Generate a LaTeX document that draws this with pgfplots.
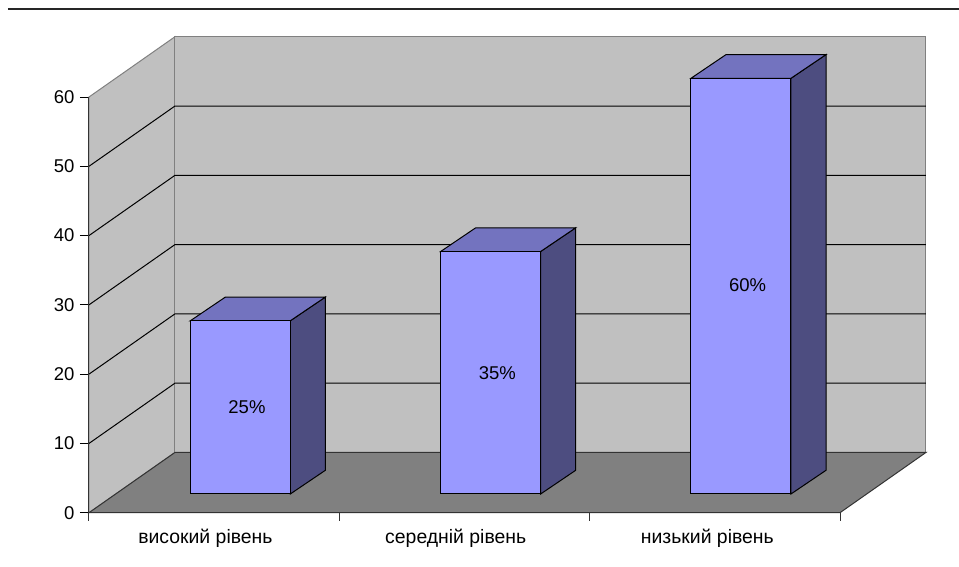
\documentclass[border=0pt]{standalone}
\usepackage{fontspec}
\setmainfont{Liberation Sans}
\usepackage{pgfplots}
\pgfplotsset{compat=1.18}

\definecolor{wall}{HTML}{C0C0C0}
\definecolor{floorc}{HTML}{808080}
\definecolor{barfront}{HTML}{9999FF}
\definecolor{bartop}{HTML}{7373BF}
\definecolor{barside}{HTML}{4D4D80}

% one 3d column: slot number, value
\newcommand{\barbox}[2]{%
  \pgfmathsetmacro\xa{#1+0.4047}%
  \pgfmathsetmacro\xb{#1+0.8041}%
  \pgfmathsetmacro\xc{#1+0.4047+0.14}%
  \pgfmathsetmacro\xd{#1+0.8041+0.14}%
  \pgfmathsetmacro\yb{#2+2.7}%
  \pgfmathsetmacro\yc{#2+2.7+3.42}%
  \addplot[fill=barside,draw=black,line width=1pt] coordinates {(\xb,2.7)(\xd,6.12)(\xd,\yc)(\xb,\yb)} --cycle;
  \addplot[fill=bartop,draw=black,line width=1pt] coordinates {(\xa,\yb)(\xb,\yb)(\xd,\yc)(\xc,\yc)} --cycle;
  \addplot[fill=barfront,draw=black,line width=1pt] coordinates {(\xa,2.7)(\xb,2.7)(\xb,\yb)(\xa,\yb)} --cycle;
}

\begin{document}
\begin{tikzpicture}[x=1pt,y=1pt]
\useasboundingbox (-89,-53.3) rectangle (870,512.7);
\draw[line width=1.6pt,black!85] (-81,503.7) -- (870,503.7);
\begin{axis}[
  scale only axis,
  width=751pt, height=415.7pt,
  xmin=0, xmax=3,
  ymin=0, ymax=60,
  clip=false,
  axis on top,
  axis x line=bottom,
  axis y line=left,
  axis line style={-,line width=1pt,black!80},
  ytick={0,10,20,30,40,50,60},
  xtick={0.465,1.465,2.47},
  xticklabels={високий рівень,середній рівень,низький рівень},
  minor xtick={0,1,2,3},
  major x tick style={draw=none},
  minor tick length=8pt,
  major tick length=9pt,
  x tick style={line width=1pt,black!80},
  y tick style={line width=1pt,black},
  tick align=outside,
  yticklabel style={font=\fontsize{18.5}{22}\selectfont,xshift=-2pt},
  xticklabel style={font=\fontsize{19.4}{22}\selectfont,yshift=-4pt},
  /pgf/number format/assume math mode=true,
]
% walls and floor
\addplot[fill=wall,draw=floorc,line width=1pt] coordinates {(0,0)(0,60)(0.3435,68.7)(0.3435,8.7)} --cycle;
\addplot[fill=wall,draw=floorc,line width=1pt] coordinates {(0.3435,8.7)(0.3435,68.7)(3.3435,68.7)(3.3435,8.7)} --cycle;
\addplot[fill=floorc,draw=black!80,line width=1pt] coordinates {(0,0)(3,0)(3.3435,8.7)(0.3435,8.7)} --cycle;
% gridlines
\addplot[black,line width=1pt] coordinates {(0,10)(0.3435,18.7)(3.3435,18.7)};
\addplot[black,line width=1pt] coordinates {(0,20)(0.3435,28.7)(3.3435,28.7)};
\addplot[black,line width=1pt] coordinates {(0,30)(0.3435,38.7)(3.3435,38.7)};
\addplot[black,line width=1pt] coordinates {(0,40)(0.3435,48.7)(3.3435,48.7)};
\addplot[black,line width=1pt] coordinates {(0,50)(0.3435,58.7)(3.3435,58.7)};
% columns
\barbox{0}{25}
\barbox{1}{35}
\barbox{2}{60}
% value labels
\addplot[draw=none,point meta=explicit symbolic,nodes near coords,
  every node near coord/.style={anchor=center,font=\fontsize{18.5}{22}\selectfont}]
  coordinates {(0.631,15.2)[25\%] (1.631,20.2)[35\%] (2.631,32.8)[60\%]};
\end{axis}
\end{tikzpicture}
\end{document}
